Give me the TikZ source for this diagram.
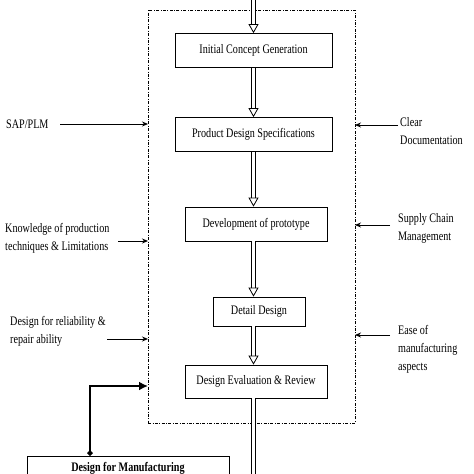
\documentclass[tikz,border=0pt]{standalone}
\usepackage{fontspec}
\setmainfont[FakeStretch=0.78]{Liberation Serif}
\usetikzlibrary{arrows.meta}
\usetikzlibrary{calc}

\begin{document}
\begin{tikzpicture}[x=1pt,y=-1pt,
  stage/.style={draw, line width=0.8pt, minimum height=34pt, font=\fontsize{13}{15}\selectfont},
  flow/.style={double, double distance=3.5pt, line width=0.8pt, -{Triangle[open,length=9pt,width=10pt]}},
  feed/.style={line width=0.9pt, -{Stealth[length=6pt,width=5pt]}},
  side/.style={align=left, inner sep=0pt, font=\fontsize{13}{18}\selectfont}]

\useasboundingbox (0,0) rectangle (474,474);

% process frame
\node[draw, dash pattern=on 3pt off 1.5pt on 0.8pt off 1.5pt, line width=0.7pt, outer sep=0pt, minimum width=207pt, minimum height=413pt](frame) at (251.5,216.5) {};

\node[stage, minimum width=157pt](icg) at (253.5,50.5) {Initial Concept Generation};

\node[stage, minimum width=157pt](pds) at (253.5,134.5) {Product Design Specifications};

\node[stage, minimum width=142pt](dop) at (256,224) {Development of prototype};

\node[stage, minimum width=92pt, minimum height=29pt](dd) at (259,311.5) {Detail Design};

\node[stage, minimum width=142pt, minimum height=33pt](der) at (256,381.5) {Design Evaluation \& Review};

\node[stage, minimum width=202pt, minimum height=24pt, font=\bfseries\fontsize{13}{15}\selectfont](dfm) at (128,468) {Design for Manufacturing};

% inputs
\node[side, anchor=west](sap) at (6,124) {SAP/PLM};
\node[side, anchor=west](know) at (5,238) {Knowledge of production\\techniques \& Limitations};
\node[side, anchor=west](rel) at (10,331) {Design for reliability \&\\repair ability};
\node[side, anchor=west](doc) at (400,131) {Clear\\Documentation};
\node[side, anchor=west](scm) at (398,228) {Supply Chain\\Management};
\node[side, anchor=west](ease) at (398,349) {Ease of\\manufacturing\\aspects};

\coordinate (sapT) at (60,124);
\coordinate (knowT) at (118,241);
\coordinate (relT) at (107,339);
\coordinate (docT) at (398,125);
\coordinate (scmT) at (390,225);
\coordinate (easeT) at (390,335);

\foreach \t/\s in {sapT/west, knowT/west, relT/west, docT/east, scmT/east, easeT/east}
    \draw[feed] (\t) -- (\t -| frame.\s);

% main flow
\coordinate (in) at (253.5,0);
\coordinate (out) at (253.5,480);
\coordinate (dfmIn) at (0,386);

\draw[flow] (in) -- (in |- icg.north);

\foreach \from/\to in {icg/pds, pds/dop, dop/dd, dd/der}
    \draw[flow] (in |- \from.south) -- (in |- \to.north);

\draw[double, double distance=3.5pt, line width=0.8pt] (in |- der.south) -- (out);

\draw[line width=2pt, {Circle[length=5pt]}-{Latex[length=9pt,width=9pt]}] ([xshift=-38pt]dfm.north) |- (frame.west |- dfmIn);

\end{tikzpicture}
\end{document}
